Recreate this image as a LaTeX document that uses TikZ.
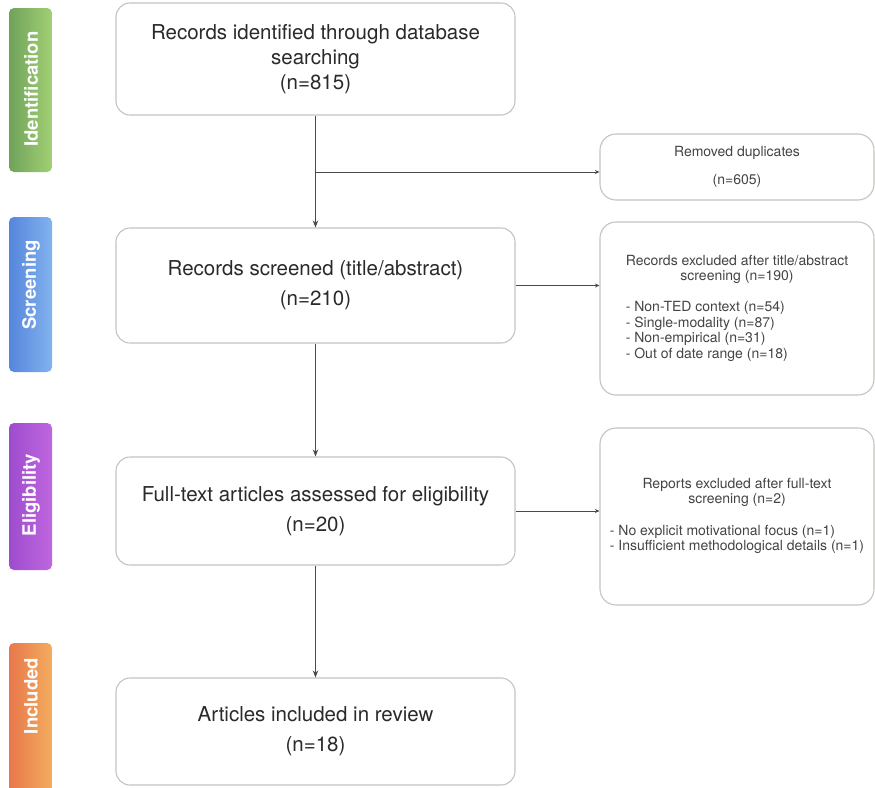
\documentclass[tikz,border=0pt]{standalone}
\usepackage{fontspec}
\setmainfont{TeX Gyre Heros}
\usetikzlibrary{arrows.meta}
\definecolor{boxline}{HTML}{C4C4C0}
\definecolor{conn}{HTML}{4A4A4A}
\definecolor{txt}{HTML}{2A2A2A}
\definecolor{txtb}{HTML}{444444}
\definecolor{gA}{HTML}{6FA35A}
\definecolor{gB}{HTML}{A2CF74}
\definecolor{bA}{HTML}{5586DC}
\definecolor{bB}{HTML}{82B2EE}
\definecolor{pA}{HTML}{9E4CCF}
\definecolor{pB}{HTML}{BE66DE}
\definecolor{oA}{HTML}{E8774B}
\definecolor{oB}{HTML}{F3AD5E}
\tikzset{
  mbox/.style={draw=boxline, line width=1.1pt, rounded corners=14pt, fill=white,
    minimum width=399pt, align=center, text=txt, inner sep=0pt},
  rbox/.style={draw=boxline, line width=1.1pt, rounded corners=16pt, fill=white,
    minimum width=274pt, text=txtb, inner sep=0pt,
    font=\fontsize{14}{15.5}\selectfont},
  phasebar/.style={rounded corners=5pt, minimum width=43pt, inner sep=0pt, draw=none},
  phasetxt/.style={rotate=90, text=white, inner sep=0pt,
    font=\bfseries\fontsize{18.5}{18.5}\selectfont},
  arr/.style={draw=conn, line width=0.9pt, -{Stealth[length=7pt,width=5.5pt]}},
  arrs/.style={draw=conn, line width=0.8pt, -{Stealth[length=4.5pt,width=4pt]}},
}
\begin{document}
\begin{tikzpicture}[x=1pt,y=-1pt]
\useasboundingbox (0,0) rectangle (875,787);
\clip (0,0) rectangle (875,787);
\fill[white] (0,0) rectangle (875,787);

% phase bars
\node[phasebar, left color=gA, right color=gB, minimum height=164pt] (pid) at (30.5,90) {};
\node[phasebar, left color=bA, right color=bB, minimum height=155pt] (psc) at (30.5,294.5) {};
\node[phasebar, left color=pA, right color=pB, minimum height=147pt] (pel) at (30.5,496.5) {};
\node[phasebar, left color=oA, right color=oB, minimum height=157pt] (pin) at (30.5,721.5) {};
\node[phasetxt] (tid) at (31,89) {Identification};
\node[phasetxt] (tsc) at (31,285) {Screening};
\node[phasetxt] (tel) at (31,495) {Eligibility};
\node[phasetxt] (tin) at (31,696) {Included};

% main boxes
\node[mbox, minimum height=112pt, font=\fontsize{20.5}{25}\selectfont] (b1) at (315.5,59)
  {Records identified through database\\searching\\(n=815)};
\node[mbox, minimum height=115pt, font=\fontsize{20.5}{30}\selectfont] (b2) at (315.5,285.5)
  {Records screened (title/abstract)\\(n=210)};
\node[mbox, minimum height=108pt, font=\fontsize{20.5}{30}\selectfont] (b3) at (315.5,511)
  {Full-text articles assessed for eligibility\\(n=20)};
\node[mbox, minimum height=107pt, font=\fontsize{20.5}{30}\selectfont] (b4) at (315.5,731.5)
  {Articles included in review\\(n=18)};

% right boxes
\node[rbox, minimum height=66pt] (rd) at (737,167)
  {\begin{tabular}{@{}c@{}}Removed duplicates\\[12.5pt](n=605)\end{tabular}};
\node[rbox, minimum height=173pt] (ex1) at (737,308.5)
  {\begin{tabular}{@{}c@{}}
   Records excluded after title/abstract\\
   screening (n=190)\\[15.5pt]
   \multicolumn{1}{@{}l@{}}{- Non-TED context (n=54)}\\
   \multicolumn{1}{@{}l@{}}{- Single-modality (n=87)}\\
   \multicolumn{1}{@{}l@{}}{- Non-empirical (n=31)}\\
   \multicolumn{1}{@{}l@{}}{- Out of date range (n=18)}
   \end{tabular}};
\node[rbox, minimum height=177pt] (ex2) at (737,516.5)
  {\begin{tabular}{@{}c@{}}
   Reports excluded after full-text\\
   screening (n=2)\\[16pt]
   \multicolumn{1}{@{}l@{}}{- No explicit motivational focus (n=1)}\\
   \multicolumn{1}{@{}l@{}}{- Insufficient methodological details (n=1)}
   \end{tabular}};

% connectors
\draw[arr] (b1) -- (b2);
\draw[arr] (b2) -- (b3);
\draw[arr] (b3) -- (b4);
\coordinate (br) at (315.5,172);
\draw[arrs] (br) -- (br -| rd.west);
\draw[arrs] (b2.east) -- (b2.east -| ex1.west);
\draw[arrs] (b3.east) -- (b3.east -| ex2.west);
\end{tikzpicture}
\end{document}
